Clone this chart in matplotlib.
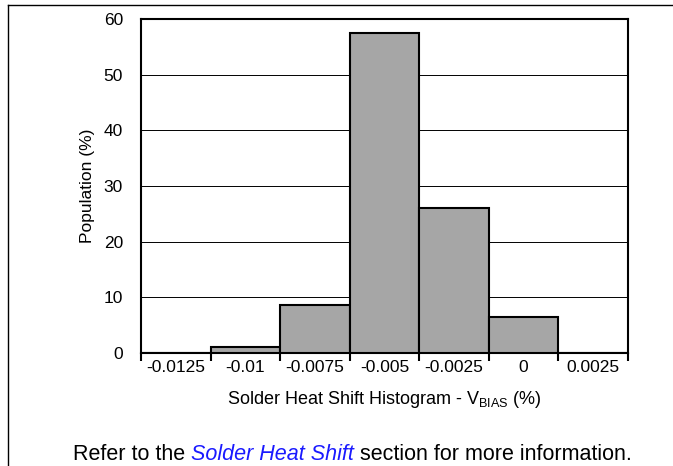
import matplotlib.pyplot as plt
from matplotlib.lines import Line2D
import numpy as np

plt.rcParams['font.family'] = ['Liberation Sans', 'DejaVu Sans']

BIN_LABELS = ['-0.0125', '-0.01', '-0.0075', '-0.005', '-0.0025', '0', '0.0025']
POPULATION = [0.0, 1.1, 8.7, 57.5, 26.0, 6.5, 0.0]
Y_TICKS = [0, 10, 20, 30, 40, 50, 60]

fig = plt.figure(figsize=(6.73, 4.66), dpi=100)
ax = fig.add_axes([141 / 673, 1 - 353 / 466, 487 / 673, 334 / 466])

x = np.arange(len(BIN_LABELS))
ax.bar(x, POPULATION, width=1.0, color='#a6a6a6', edgecolor='black', linewidth=1.5, zorder=3)

ax.set_xlim(-0.5, len(BIN_LABELS) - 0.5)
ax.set_ylim(0, 60)
ax.set_yticks(Y_TICKS)
ax.yaxis.grid(True, color='black', linewidth=0.7, zorder=0)
ax.tick_params(axis='y', length=0, labelsize=12.5, pad=13)

# labels sit in the bin middle, tick marks at bin edges
ax.set_xticks(x)
ax.set_xticklabels(BIN_LABELS)
ax.set_xticks(np.arange(len(BIN_LABELS) + 1) - 0.5, minor=True)
ax.tick_params(axis='x', which='major', length=0, labelsize=12.5, pad=5)
ax.tick_params(axis='x', which='minor', length=6, width=1.5, direction='out')

for s in ax.spines.values():
    s.set_linewidth(1.5)

ax.set_ylabel('Population (%)', fontsize=12.5, labelpad=6)
ax.set_xlabel(r'Solder Heat Shift Histogram - V$_{\mathregular{BIAS}}$ (%)', fontsize=13, labelpad=10)

# page frame
fig.add_artist(Line2D([8 / 673, 1], [1 - 5 / 466, 1 - 5 / 466], color='black', linewidth=1))
fig.add_artist(Line2D([8 / 673, 8 / 673], [0, 1 - 5 / 466], color='black', linewidth=1))

# footnote with a blue italic link part
parts = [('Refer to the ', 'black', 'normal'),
         ('Solder Heat Shift', '#1a1aff', 'italic'),
         (' section for more information.', 'black', 'normal')]
fig.canvas.draw()
renderer = fig.canvas.get_renderer()
texts = []
total = 0
for s, c, st in parts:
    t = fig.text(0, 1 - 460 / 466, s, color=c, style=st, fontsize=15.5, va='baseline', ha='left')
    w = t.get_window_extent(renderer).width
    texts.append((t, w))
    total += w
xpos = 352 - total / 2
for t, w in texts:
    t.set_x(xpos / 673)
    xpos += w

fig.savefig('out.png', dpi=100)
